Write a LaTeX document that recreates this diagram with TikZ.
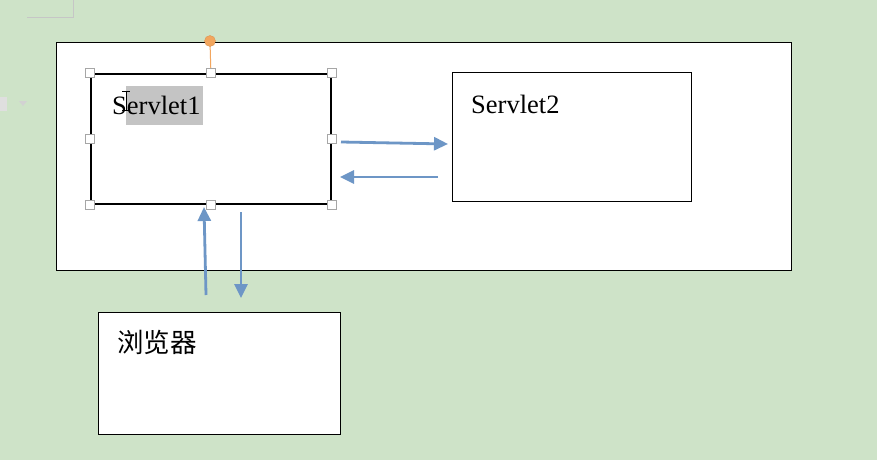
\documentclass[tikz,border=0pt]{standalone}
\usepackage{fontspec}
\setmainfont{Liberation Serif}
\newfontfamily\cjk{Noto Sans CJK SC}
\begin{document}
\begin{tikzpicture}[x=1pt,y=-1pt,
  box/.style={draw=black,fill=white,line width=1.2pt},
  handle/.style={draw=gray!70,fill=white,line width=0.9pt,minimum size=9pt,inner sep=0pt,rectangle},
  arr/.style={draw=arrowblue,line width=2.8pt,-{Triangle[length=14pt,width=13pt]}},
  lbl/.style={font=\fontsize{26.5}{26}\selectfont,anchor=base west,inner sep=0pt}]
\usetikzlibrary{arrows.meta}
\definecolor{bg}{HTML}{CEE3C8}
\definecolor{arrowblue}{HTML}{6D96C6}
\definecolor{hl}{HTML}{C4C4C4}
\definecolor{orangeh}{HTML}{F2A65E}
\useasboundingbox (0,0) rectangle (877,460);
\fill[bg] (0,0) rectangle (877,460);
% faint page corner marks
\draw[gray!45,line width=0.8pt] (27,17) -- (73,17) -- (73,0);
% faint toolbar icon
\fill[gray!25] (-2,97) rectangle (7,111);
\fill[gray!35] (19,101) -- (27,101) -- (23,106) -- cycle;
% outer frame
\node[box,minimum width=735pt,minimum height=228pt,anchor=north west,inner sep=0pt] (outer) at (56,42) {};
% Servlet1 box (selected)
\node[box,line width=1.8pt,minimum width=240pt,minimum height=130pt,anchor=north west,inner sep=0pt] (s1) at (90,73) {};
\fill[hl] (126,86) rectangle (203,125);
\node[lbl] (s1t) at (112,114) {Servlet1};
\draw[black,line width=0.8pt] (122,91) -- (130,91) (126,91) -- (126,110) (122,110) -- (130,110);
% rotation handle
\coordinate (rot) at (210,41);
\draw[orangeh,line width=1pt] (rot) -- (s1.north);
\node[circle,draw=orangeh!90!black,fill=orangeh,minimum size=11pt,inner sep=0pt] (roth) at (rot) {};
\foreach \a in {north west,north,north east,east,south east,south,south west,west}
  \node[handle] at (s1.\a) {};
% Servlet2 box
\node[box,minimum width=239pt,minimum height=129pt,anchor=north west,inner sep=0pt] (s2) at (452,72) {};
\node[lbl] (s2t) at (471,113) {Servlet2};
% browser box
\node[box,minimum width=242pt,minimum height=122pt,anchor=north west,inner sep=0pt] (br) at (98,312) {};
\node[lbl,font=\cjk\fontsize{26.5}{26}\selectfont] (brt) at (117,352) {浏览器};
% arrows
\coordinate (a1s) at (341,142); \coordinate (a1e) at (448,144);
\draw[arr] (a1s) -- (a1e);
\coordinate (a2s) at (438,177); \coordinate (a2e) at (340,177);
\draw[arr] (a2s) -- (a2e);
\coordinate (a3s) at (206,295); \coordinate (a3e) at (204,207);
\draw[arr] (a3s) -- (a3e);
\coordinate (a4s) at (241,212); \coordinate (a4e) at (241,298);
\draw[arr] (a4s) -- (a4e);
\end{tikzpicture}
\end{document}
